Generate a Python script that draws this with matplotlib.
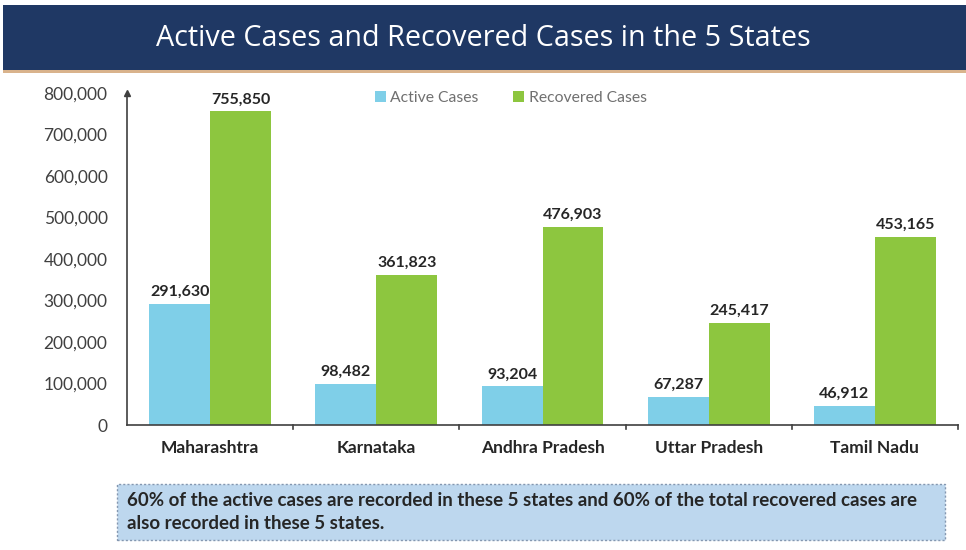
import matplotlib.pyplot as plt
from matplotlib.patches import Rectangle
import numpy as np

states = ["Maharashtra", "Karnataka", "Andhra Pradesh", "Uttar Pradesh", "Tamil Nadu"]
active = [291630, 98482, 93204, 67287, 46912]
recovered = [755850, 361823, 476903, 245417, 453165]
yticks = [0, 100000, 200000, 300000, 400000, 500000, 600000, 700000, 800000]

title = "Active Cases and Recovered Cases in the 5 States"
note = ("60% of the active cases are recorded in these 5 states and 60% of the total recovered cases are\n"
        "also recorded in these 5 states.")

blue = "#7fcfe8"
green = "#8dc63f"
txt = "#262626"

plt.rcParams['font.family'] = ['Lato', 'DejaVu Sans']

fig = plt.figure(figsize=(9.66, 5.5), dpi=100)

# title banner
fig.patches.append(Rectangle((3 / 966, 1 - 70 / 550), 1, 65 / 550, transform=fig.transFigure,
                             facecolor="#1f3864", edgecolor="none", zorder=0))
fig.patches.append(Rectangle((3 / 966, 1 - 73 / 550), 1, 3 / 550, transform=fig.transFigure,
                             facecolor="#d9b38c", edgecolor="none", zorder=0))
fig.text(0.5, 1 - 38 / 550, title, color="white", fontsize=20.7, ha="center", va="center",
         family=["Open Sans", "DejaVu Sans"])

ax = fig.add_axes([127 / 966, 125 / 550, 831 / 966, 332 / 550])
x = np.arange(len(states))
w = 0.367
b1 = ax.bar(x - w / 2, active, w, color=blue, label="Active Cases")
b2 = ax.bar(x + w / 2, recovered, w, color=green, label="Recovered Cases")

for bars, vals in ((b1, active), (b2, recovered)):
    for r, v in zip(bars, vals):
        ax.text(r.get_x() + r.get_width() / 2, v + 12000, f"{v:,}", ha="center", va="bottom",
                fontsize=11.5, fontweight="bold", color=txt)

ax.set_xlim(-0.5, len(states) - 0.5)
ax.set_ylim(0, 800000)
ax.set_yticks(yticks)
ax.set_yticklabels([f"{t:,}" for t in yticks], fontsize=12.5, color="#404040")
ax.tick_params(axis="y", length=0, pad=14)
ax.set_xticks(x)
ax.set_xticklabels(states, fontsize=12.5, fontweight="bold", color=txt)
ax.tick_params(axis="x", length=0, pad=11)
for b in np.arange(len(states) + 1) - 0.5:
    if b > -0.5:
        ax.plot([b, b], [0, -9000], color="#404040", lw=1.2, clip_on=False)

for s in ("top", "right"):
    ax.spines[s].set_visible(False)
ax.spines["left"].set_color("#404040")
ax.spines["bottom"].set_color("#404040")
ax.spines["left"].set_linewidth(1.2)
ax.spines["bottom"].set_linewidth(1.2)
ax.plot([-0.5], [800000], marker="^", ms=4, color="#404040", clip_on=False)

ax.legend(loc="upper center", bbox_to_anchor=(0.462, 1.05), ncol=2, frameon=False, fontsize=11.3,
          handlelength=0.7, handleheight=0.7, handletextpad=0.3, columnspacing=2.2,
          labelcolor="#707070")

# note box
fig.patches.append(Rectangle((117 / 966, 1 - 540 / 550), 828 / 966, 56 / 550, transform=fig.transFigure,
                             facecolor="#bdd7ee", edgecolor="#8497b0", linestyle=(0, (1.5, 1.5)),
                             lw=1, zorder=0))
fig.text(127 / 966, 1 - 512 / 550, note, fontsize=13.5, fontweight="bold", color=txt, ha="left",
         va="center", linespacing=1.4)

fig.savefig("out.png", dpi=100)
